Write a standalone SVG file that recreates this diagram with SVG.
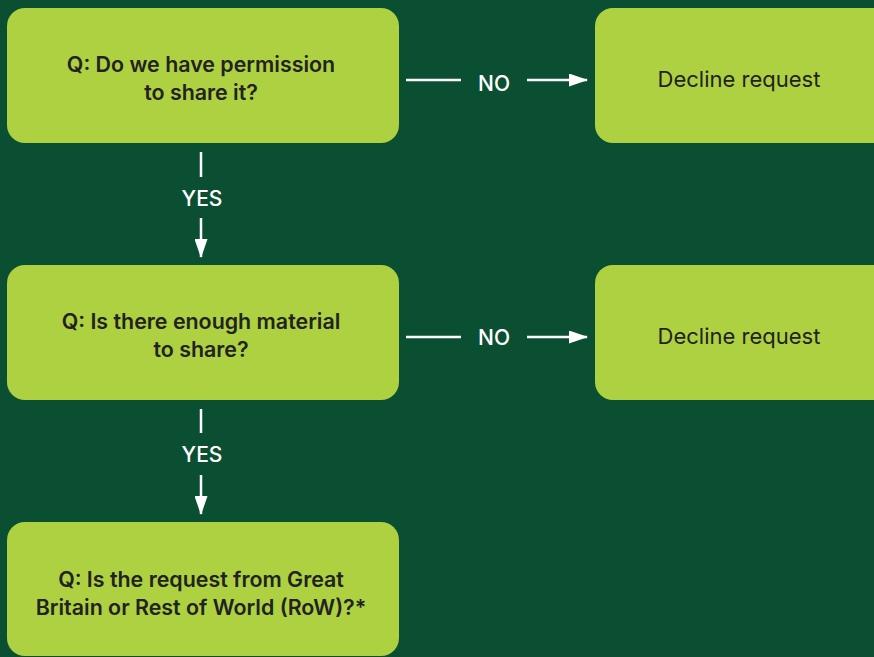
<svg xmlns="http://www.w3.org/2000/svg" width="874" height="657" viewBox="0 0 874 657">
<defs>
<style>
.box{fill:#aed141;}
.q{font-family:Inter,"Noto Sans","Liberation Sans",sans-serif;font-size:21.4px;font-weight:600;fill:#222;text-anchor:middle;}
.d{font-family:Inter,"Noto Sans","Liberation Sans",sans-serif;font-size:22px;font-weight:400;fill:#222;text-anchor:middle;}
.lbl{font-family:Inter,"Noto Sans","Liberation Sans",sans-serif;font-size:21px;font-weight:500;fill:#fff;text-anchor:middle;}
.ln{stroke:#fff;stroke-width:2.5;fill:none;}
</style>
<marker id="ah" markerWidth="19" markerHeight="13" refX="18" refY="6.5" orient="auto" markerUnits="userSpaceOnUse" viewBox="0 0 19 13">
<path d="M0,0 L19,6.5 L0,13 Z" fill="#fff"/>
</marker>
</defs>
<rect width="874" height="657" fill="#0b4f32"/>
<g id="q1">
<rect class="box" x="7" y="8" width="392" height="135" rx="18"/>
<text class="q" x="201" y="72">Q: Do we have permission</text>
<text class="q" x="201" y="100">to share it?</text>
</g>
<g id="decline1">
<rect class="box" x="595" y="8" width="300" height="135" rx="18"/>
<text class="d" x="739" y="87">Decline request</text>
</g>
<g id="q2">
<rect class="box" x="7" y="265" width="392" height="135" rx="18"/>
<text class="q" x="201" y="329">Q: Is there enough material</text>
<text class="q" x="201" y="357">to share?</text>
</g>
<g id="decline2">
<rect class="box" x="595" y="265" width="300" height="135" rx="18"/>
<text class="d" x="739" y="344">Decline request</text>
</g>
<g id="q3">
<rect class="box" x="7" y="522" width="392" height="134" rx="18"/>
<text class="q" x="201" y="587">Q: Is the request from Great</text>
<text class="q" x="201" y="615">Britain or Rest of World (RoW)?*</text>
</g>
<g id="connectors">
<line class="ln" x1="406" y1="80" x2="461" y2="80"/>
<text class="lbl" x="494" y="91">NO</text>
<line class="ln" x1="527" y1="80" x2="587" y2="80" marker-end="url(#ah)"/>
<line class="ln" x1="406" y1="337" x2="461" y2="337"/>
<text class="lbl" x="494" y="345">NO</text>
<line class="ln" x1="527" y1="337" x2="587" y2="337" marker-end="url(#ah)"/>
<line class="ln" x1="201" y1="152" x2="201" y2="177"/>
<text class="lbl" x="202" y="206">YES</text>
<line class="ln" x1="201" y1="218" x2="201" y2="257" marker-end="url(#ah)"/>
<line class="ln" x1="201" y1="409" x2="201" y2="433"/>
<text class="lbl" x="202" y="462">YES</text>
<line class="ln" x1="201" y1="475" x2="201" y2="514" marker-end="url(#ah)"/>
</g>
</svg>
